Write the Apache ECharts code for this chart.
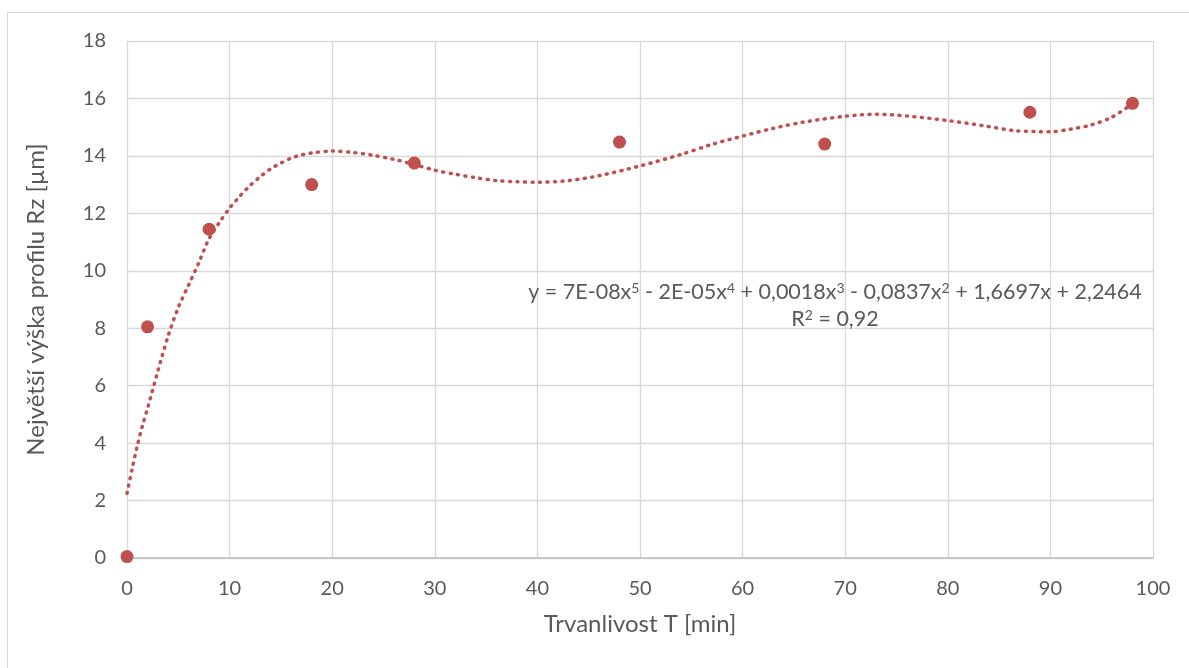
<!DOCTYPE html>
<html>
<head>
<meta charset="utf-8">
<script src="https://cdn.jsdelivr.net/npm/echarts@6/dist/echarts.min.js"></script>
<style>
html,body{margin:0;padding:0;background:#fff;}
#chart{width:1189px;height:668px;}
</style>
</head>
<body>
<div id="chart"></div>
<script>
// Measured data points
const durationT = [0, 2, 8, 18, 28, 48, 68, 88, 98];
const roughnessRz = [0.05, 8.05, 11.45, 13.0, 13.75, 14.48, 14.41, 15.52, 15.83];

// Trendline (polynomial, 5th order)
const trendX = [0, 0.5, 1, 1.5, 2, 3, 4, 5, 6, 7, 8, 9, 10, 11, 12, 13, 14, 15, 16, 17, 18, 20, 22, 24, 26, 28, 30, 32, 34, 36, 38, 40, 43, 46, 50, 54, 57, 60, 63, 66, 70, 73, 76, 80, 83.5, 86.5, 90, 92, 94, 96, 98];
const trendY = [2.25, 3.1, 3.9, 4.6, 5.2, 6.5, 7.72, 8.72, 9.5, 10.28, 11.12, 11.68, 12.18, 12.6, 12.97, 13.28, 13.55, 13.75, 13.92, 14.03, 14.1, 14.17, 14.12, 14.02, 13.88, 13.7, 13.5, 13.36, 13.24, 13.14, 13.1, 13.08, 13.14, 13.31, 13.65, 14.05, 14.4, 14.69, 14.96, 15.18, 15.38, 15.45, 15.39, 15.23, 15.05, 14.88, 14.84, 14.93, 15.08, 15.35, 15.82];

const xTitle = 'Trvanlivost T [min]';
const yTitle = 'Největší výška profilu Rz [µm]';
const eqText = 'y = 7E-08x{s|5} - 2E-05x{s|4} + 0,0018x{s|3} - 0,0837x{s|2} + 1,6697x + 2,2464';
const r2Text = 'R{s|2} = 0,92';

const FONT = 'Lato, "Open Sans", sans-serif';
const TXT = '#595959';
const RED = '#C0504D';

const chart = echarts.init(document.getElementById('chart'));
chart.setOption({
  animation: false,
  backgroundColor: '#fff',
  textStyle: { fontFamily: FONT },
  grid: { left: 127, right: 36, top: 41, bottom: 110, containLabel: false },
  xAxis: {
    type: 'value', min: 0, max: 100, interval: 10,
    name: xTitle, nameLocation: 'middle', nameGap: 54,
    nameTextStyle: { fontSize: 24, color: TXT, fontFamily: FONT },
    axisLine: { show: true, lineStyle: { color: '#bfbfbf', width: 1.5 } },
    axisTick: { show: false },
    axisLabel: { fontSize: 20, color: TXT, margin: 21, fontFamily: FONT },
    splitLine: { show: true, lineStyle: { color: '#d9d9d9', width: 1.3 } }
  },
  yAxis: {
    type: 'value', min: 0, max: 18, interval: 2,
    name: yTitle, nameLocation: 'middle', nameGap: 79, nameRotate: 90,
    nameTextStyle: { fontSize: 24, color: TXT, fontFamily: FONT },
    axisLine: { show: false },
    axisTick: { show: false },
    axisLabel: { fontSize: 20, color: TXT, margin: 21, fontFamily: FONT },
    splitLine: { show: true, lineStyle: { color: '#d9d9d9', width: 1.3 } }
  },
  graphic: [
    {
      type: 'rect', silent: true, z: -10,
      shape: { x: 7.5, y: 12.5, width: 1200, height: 700 },
      style: { fill: 'none', stroke: '#d9d9d9', lineWidth: 1 }
    },
    {
      type: 'text', x: 835, y: 292, z: 10,
      style: {
        text: eqText, align: 'center', verticalAlign: 'middle',
        fontSize: 21.5, fontFamily: FONT, fill: TXT,
        rich: { s: { fontSize: 14, verticalAlign: 'top', fill: TXT, fontFamily: FONT } }
      }
    },
    {
      type: 'text', x: 835, y: 319, z: 10,
      style: {
        text: r2Text, align: 'center', verticalAlign: 'middle',
        fontSize: 21.5, fontFamily: FONT, fill: TXT,
        rich: { s: { fontSize: 14, verticalAlign: 'top', fill: TXT, fontFamily: FONT } }
      }
    }
  ],
  series: [
    {
      type: 'line',
      data: trendX.map((x, i) => [x, trendY[i]]),
      smooth: 0.3,
      symbol: 'none',
      lineStyle: { color: RED, width: 3.5, type: [1, 6.5], cap: 'round' },
      z: 2
    },
    {
      type: 'scatter',
      data: durationT.map((x, i) => [x, roughnessRz[i]]),
      symbol: 'circle',
      symbolSize: 13,
      itemStyle: { color: RED, opacity: 1 },
      z: 3
    }
  ]
});
</script>
</body>
</html>
